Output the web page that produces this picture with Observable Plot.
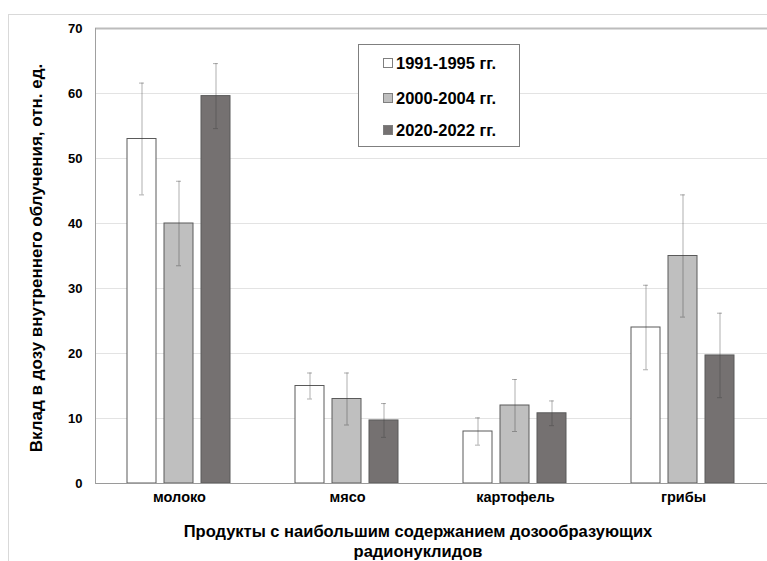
<!DOCTYPE html>
<html>
<head>
<meta charset="utf-8">
<script src="https://cdn.jsdelivr.net/npm/d3@7"></script>
<script src="https://cdn.jsdelivr.net/npm/@observablehq/plot@0.6"></script>
<style>
  body { margin: 0; background: #fff; }
  #wrap { position: relative; width: 767px; height: 561px; overflow: hidden;
          font-family: "Liberation Sans", Arial, sans-serif; color: #000; }
  #outer { position: absolute; left: 8px; top: 14px; width: 900px; height: 700px;
           border-top: 1px solid #d9d9d9; border-left: 1px solid #d9d9d9; }
  #chart { position: absolute; left: 0; top: 0; }
  #ytitle { position: absolute; left: 37px; top: 258px; white-space: nowrap;
            transform: translate(-50%, -50%) rotate(-90deg);
            font-weight: bold; font-size: 17px; }
  #xtitle { position: absolute; left: 0; width: 836px; top: 521px; text-align: center;
            font-weight: bold; font-size: 16.5px; line-height: 20px; }
  #legend { position: absolute; left: 358px; top: 44px; width: 160px; height: 101px;
            border: 1px solid #7f7f7f; background: #fff; }
  .item { position: absolute; left: 24px; height: 20px; line-height: 20px;
          font-weight: bold; font-size: 16.5px; white-space: nowrap; }
  .sw { display: inline-block; width: 8px; height: 8px; border: 1px solid #7f7f7f;
        margin-right: 3px; vertical-align: 1px; }
</style>
</head>
<body>
<div id="wrap">
  <div id="outer"></div>
  <div id="chart"></div>
  <div id="ytitle">Вклад в дозу внутреннего облучения, отн. ед.</div>
  <div id="xtitle">Продукты с наибольшим содержанием дозообразующих<br>радионуклидов</div>
  <div id="legend"></div>
</div>
<script>
const categories = ["молоко", "мясо", "картофель", "грибы"];
const series = ["1991-1995 гг.", "2000-2004 гг.", "2020-2022 гг."];
const values1991 = [53, 15, 8, 24];
const err1991 = [8.6, 2, 2.1, 6.5];
const values2000 = [40, 13, 12, 35];
const err2000 = [6.5, 4, 4, 9.4];
const values2020 = [59.6, 9.7, 10.8, 19.7];
const err2020 = [5, 2.6, 1.9, 6.5];
const yTicks = [0, 10, 20, 30, 40, 50, 60, 70];
const fillColors = ["#ffffff", "#bfbfbf", "#757171"];

const valueSets = [values1991, values2000, values2020];
const errSets = [err1991, err2000, err2020];
const data = categories.flatMap((c, i) =>
  series.map((s, j) => ({category: c, series: s, value: valueSets[j][i], err: errSets[j][i]})));

const errStyle = {stroke: "#404040", strokeOpacity: 0.42, strokeWidth: 1};

const chart = Plot.plot({
  width: 767, height: 561,
  marginLeft: 95, marginRight: 0, marginTop: 28, marginBottom: 78,
  style: {fontFamily: "'Liberation Sans', Arial, sans-serif", background: "transparent", color: "#000"},
  fx: {domain: categories, padding: 0, label: null},
  x: {domain: series, paddingInner: 0.21, paddingOuter: 0.816, axis: null},
  y: {domain: [0, 70]},
  color: {domain: series, range: fillColors},
  marks: [
    Plot.ruleY(yTicks.slice(1, -1), {stroke: "#e3e3e3"}),
    Plot.ruleY([70], {stroke: "#bcbcbc", strokeWidth: 2}),
    Plot.barY(data, {fx: "category", x: "series", y: "value", fill: "series", stroke: "#5a5a5a", strokeWidth: 1}),
    Plot.ruleX(data, {fx: "category", x: "series", y1: d => d.value - d.err, y2: d => d.value + d.err, ...errStyle}),
    Plot.tickY(data, {fx: "category", x: "series", y: d => d.value + d.err, insetLeft: 12, insetRight: 12, ...errStyle}),
    Plot.tickY(data, {fx: "category", x: "series", y: d => d.value - d.err, insetLeft: 12, insetRight: 12, ...errStyle}),
    Plot.ruleY([0], {stroke: "#9a9a9a"}),
    Plot.frame({anchor: "left", stroke: "#a0a0a0", facetAnchor: "left"}),
    Plot.axisY({ticks: yTicks, tickSize: 0, tickPadding: 13, fontWeight: "bold", fontSize: 13, label: null}),
    Plot.axisFx({anchor: "bottom", tickSize: 0, tickPadding: 8, fontWeight: "bold", fontSize: 14.5, label: null})
  ]
});
document.getElementById("chart").appendChild(chart);

const legend = document.getElementById("legend");
const rowTops = [8, 43, 75];
series.forEach((s, i) => {
  const item = document.createElement("div");
  item.className = "item";
  item.style.top = rowTops[i] + "px";
  const sw = document.createElement("span");
  sw.className = "sw";
  sw.style.background = fillColors[i];
  item.appendChild(sw);
  item.appendChild(document.createTextNode(s));
  legend.appendChild(item);
});
</script>
</body>
</html>
